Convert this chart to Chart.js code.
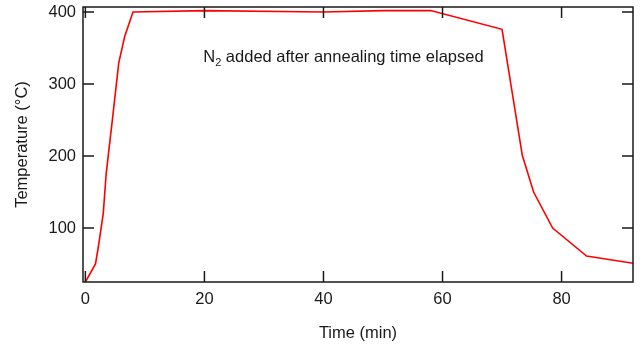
<!DOCTYPE html>
<html>
<head>
<meta charset="utf-8">
<script src="https://cdn.jsdelivr.net/npm/chart.js@4"></script>
<style>
  html, body { margin: 0; padding: 0; background: #fff; }
  #wrap { width: 642px; height: 347px; }
</style>
</head>
<body>
<div id="wrap"><canvas id="chart" width="642" height="347"></canvas></div>
<script>
/* ── Data ── */
const timeMin = [0, 1.7, 2.2, 3.0, 3.5, 4.6, 5.6, 6.6, 8.0, 20, 40, 50, 58, 70, 73.4, 75.3, 78.5, 84.2, 92];
const tempC   = [25, 50, 75, 120, 176, 255, 329, 366, 400, 402, 400, 402, 402, 376, 201, 150, 100, 61, 51];
const xTicks  = [0, 20, 40, 60, 80];
const yTicks  = [100, 200, 300, 400];
const note    = { x: 19.8, y: 330, text: ' added after annealing time elapsed' };

const FONT = "'Liberation Sans', Arial, sans-serif";
const SIZE = 16.5;
const INK = '#1a1a1a';

// frame box with inward ticks on all four sides
const framePlugin = {
  id: 'frame',
  afterDatasetsDraw(chart) {
    const { ctx, chartArea: a, scales: { x, y } } = chart;
    const len = 11;
    ctx.save();
    ctx.strokeStyle = INK;
    ctx.lineWidth = 1.5;
    ctx.strokeRect(a.left, a.top, a.right - a.left, a.bottom - a.top);
    ctx.beginPath();
    xTicks.forEach(v => {
      const px = x.getPixelForValue(v);
      ctx.moveTo(px, a.bottom); ctx.lineTo(px, a.bottom - len);
      ctx.moveTo(px, a.top);    ctx.lineTo(px, a.top + len);
    });
    yTicks.forEach(v => {
      const py = y.getPixelForValue(v);
      ctx.moveTo(a.left, py);  ctx.lineTo(a.left + len, py);
      ctx.moveTo(a.right, py); ctx.lineTo(a.right - len, py);
    });
    ctx.stroke();

    // annotation with subscript
    const nx = x.getPixelForValue(note.x);
    const ny = y.getPixelForValue(note.y);
    ctx.fillStyle = INK;
    ctx.textBaseline = 'alphabetic';
    ctx.font = `${SIZE}px ${FONT}`;
    ctx.fillText('N', nx, ny);
    let w = ctx.measureText('N').width;
    ctx.font = `11px ${FONT}`;
    ctx.fillText('2', nx + w, ny + 4);
    w += ctx.measureText('2').width;
    ctx.font = `${SIZE}px ${FONT}`;
    ctx.fillText(note.text, nx + w, ny);
    ctx.restore();
  }
};

new Chart(document.getElementById('chart'), {
  type: 'line',
  data: {
    datasets: [{
      data: timeMin.map((t, i) => ({ x: t, y: tempC[i] })),
      borderColor: '#ff0000',
      borderWidth: 1.6,
      pointRadius: 0,
      tension: 0,
      fill: false
    }]
  },
  options: {
    responsive: false,
    animation: false,
    layout: { padding: { left: 0, right: 9, top: 7, bottom: 0 } },
    plugins: { legend: { display: false }, tooltip: { enabled: false } },
    scales: {
      x: {
        type: 'linear', min: -0.4, max: 92,
        afterFit: s => { s.height = 65; s.paddingLeft = 0; s.paddingRight = 0; },
        afterBuildTicks: s => { s.ticks = xTicks.map(v => ({ value: v })); },
        grid: { display: false, drawTicks: false },
        border: { display: false },
        ticks: { color: INK, padding: 8, font: { family: FONT, size: SIZE } },
        title: { display: true, text: 'Time (min)', color: INK, padding: { top: 0, bottom: 4 }, font: { family: FONT, size: SIZE } }
      },
      y: {
        min: 25, max: 407,
        afterFit: s => { s.width = 83; s.paddingTop = 0; s.paddingBottom = 0; },
        afterBuildTicks: s => { s.ticks = yTicks.map(v => ({ value: v })); },
        grid: { display: false, drawTicks: false },
        border: { display: false },
        ticks: { color: INK, padding: 7, font: { family: FONT, size: SIZE } },
        title: { display: true, text: 'Temperature (°C)', color: INK, padding: { top: 13, bottom: 0 }, font: { family: FONT, size: SIZE } }
      }
    }
  },
  plugins: [framePlugin]
});
</script>
</body>
</html>
